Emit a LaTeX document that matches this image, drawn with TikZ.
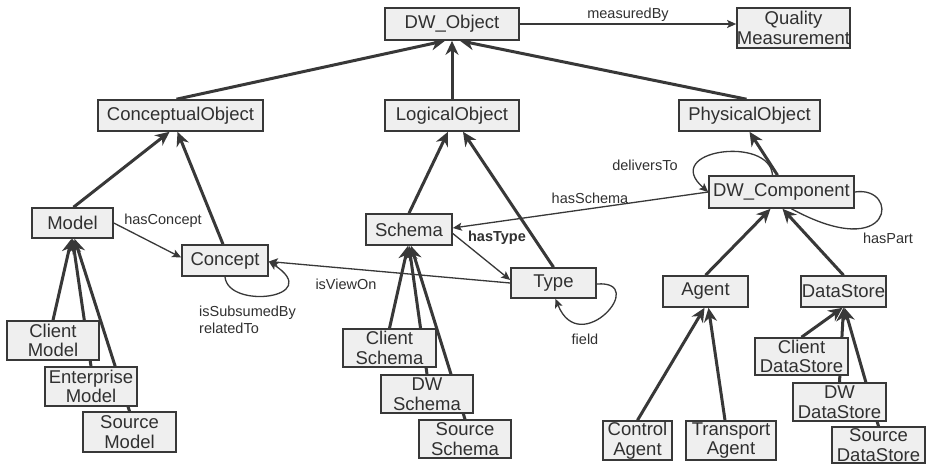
\documentclass[tikz,border=0pt]{standalone}
\usepackage{fontspec}
\setmainfont{Liberation Sans}
\usetikzlibrary{arrows.meta}
\pgfdeclarelayer{back}
\pgfdeclarelayer{bg}
\pgfsetlayers{back,bg,main}
\definecolor{boxfill}{HTML}{EFEFEF}
\definecolor{ink}{HTML}{383838}
\definecolor{txt}{HTML}{303030}
\begin{document}
\begin{tikzpicture}[x=1pt,y=-1pt,
  box/.style={draw=ink, fill=boxfill, line width=1.6pt, inner sep=0pt, text=txt,
    align=center, font=\fontsize{18.5}{19.5}\selectfont},
  isa/.style={draw=ink, line width=3pt, -{Stealth[length=14pt,width=13pt,inset=4.5pt]}},
  rel/.style={draw=ink, line width=1.3pt, -{Stealth[length=9pt,width=8pt,inset=2pt]}},
  relnotip/.style={draw=ink, line width=1.3pt},
  lab/.style={text=txt, inner sep=0pt, font=\fontsize{14.5}{17}\selectfont},
]
\useasboundingbox (0,0) rectangle (926,464);
\begin{pgfonlayer}{back}
\fill[white] (0,0) rectangle (926,464);
\end{pgfonlayer}

% nodes
\node[box, minimum width=134pt, minimum height=32pt] (dwo) at (452,24) {DW\_Object};
\node[box, minimum width=113pt, minimum height=40pt] (qm) at (793.5,28) {Quality\\Measurement};
\node[box, minimum width=165pt, minimum height=31pt] (co) at (180.5,115.5) {ConceptualObject};
\node[box, minimum width=134pt, minimum height=31pt] (lo) at (452,115.5) {LogicalObject};
\node[box, minimum width=141pt, minimum height=31pt] (po) at (749.5,115.5) {PhysicalObject};
\node[box, minimum width=81pt, minimum height=30pt] (model) at (72.5,223) {Model};
\node[box, minimum width=86pt, minimum height=31pt] (concept) at (225,260.5) {Concept};
\node[box, minimum width=86pt, minimum height=31pt] (schema) at (409,229.5) {Schema};
\node[box, minimum width=85pt, minimum height=30pt] (type) at (553.5,283) {Type};
\node[box, minimum width=145pt, minimum height=32pt] (dwc) at (781.5,192) {DW\_Component};
\node[box, minimum width=85pt, minimum height=31pt] (agent) at (705.5,291.5) {Agent};
\node[box, minimum width=85pt, minimum height=31pt] (ds) at (843.5,291.5) {DataStore};
\node[box, minimum width=92pt, minimum height=39pt] (cm) at (53,340.5) {Client\\Model};
\node[box, minimum width=92pt, minimum height=39pt] (em) at (91,386.5) {Enterprise\\Model};
\node[box, minimum width=93pt, minimum height=40pt] (sm) at (129.5,432) {Source\\Model};
\node[box, minimum width=93pt, minimum height=38pt] (cs) at (389.5,348) {Client\\Schema};
\node[box, minimum width=92pt, minimum height=38pt] (dws) at (427,394) {DW\\Schema};
\node[box, minimum width=92pt, minimum height=38pt] (ss) at (465,439) {Source\\Schema};
\node[box, minimum width=69pt, minimum height=39pt] (ca) at (637.5,440.5) {Control\\Agent};
\node[box, minimum width=90pt, minimum height=39pt] (ta) at (731,440.5) {Transport\\Agent};
\node[box, minimum width=93pt, minimum height=37pt] (cds) at (801.5,356.5) {Client\\DataStore};
\node[box, minimum width=93pt, minimum height=38pt] (dwds) at (839.5,402) {DW\\DataStore};
\node[box, minimum width=93pt, minimum height=36pt] (sds) at (878.5,445) {Source\\DataStore};

% labels
\node[lab] (lmeas) at (628,15) {measuredBy};
\node[lab] (lhc) at (163,221) {hasConcept};
\node[lab] (lview) at (346,284) {isViewOn};
\node[lab, anchor=north west, align=left] (lsub) at (199,306) {isSubsumedBy\\relatedTo};
\node[lab, font=\fontsize{14.5}{17}\selectfont\bfseries] (lht) at (497,238) {hasType};
\node[lab] (lhs) at (590,198) {hasSchema};
\node[lab] (ldel) at (645,165) {deliversTo};
\node[lab] (lpart) at (888,238) {hasPart};
\node[lab] (lfield) at (585,339) {field};

\begin{pgfonlayer}{bg}
% is-a edges
\draw[isa] ([xshift=-4pt]co.north) -- ([xshift=-7pt]dwo.south);
\draw[isa] (lo.north) -- (dwo.south);
\draw[isa] ([xshift=-3pt]po.north) -- ([xshift=8pt]dwo.south);
\draw[isa] ([xshift=1pt]model.north) -- ([xshift=-11pt]co.south);
\draw[isa] ([xshift=-2pt]concept.north) -- ([xshift=-3pt]co.south);
\draw[isa] (schema.north) -- ([xshift=-4pt]lo.south);
\draw[isa] (type.north) -- ([xshift=11pt]lo.south);
\draw[isa] ([xshift=-4pt]dwc.north) -- (po.south);
\draw[isa] (agent.north) -- ([xshift=-11pt]dwc.south);
\draw[isa] (ds.north) -- ([xshift=1pt]dwc.south);
\draw[isa] (cm.north) -- ([xshift=-1pt]model.south);
\draw[isa] (em.north) -- (model.south);
\draw[isa] (sm.north) -- ([xshift=2pt]model.south);
\draw[isa] (cs.north) -- ([xshift=-1pt]schema.south);
\draw[isa] (dws.north) -- (schema.south);
\draw[isa] (ss.north) -- ([xshift=2pt]schema.south);
\draw[isa] (ca.north) -- ([xshift=-1pt]agent.south);
\draw[isa] ([xshift=-6pt]ta.north) -- ([xshift=3pt]agent.south);
\draw[isa] (cds.north) -- ([xshift=-1pt]ds.south);
\draw[isa] (dwds.north) -- (ds.south);
\draw[isa] (sds.north) -- ([xshift=1pt]ds.south);

% relations
\draw[rel] (dwo.east) -- (dwo.east -| qm.west);
\draw[rel] (model.east) -- ([yshift=3pt]concept.west);
\draw[rel] (type.west) -- ([yshift=-1pt]concept.east);
\draw[rel] (concept.south) .. controls (228,310) and (325,298) .. ([yshift=-1pt]concept.east);
\draw[rel] ([yshift=-4pt]schema.east) -- ([yshift=3pt]type.west);
\draw[rel] (dwc.west) -- ([yshift=1.5pt]schema.east);
\draw[rel] ([yshift=-1pt]type.east) .. controls (650,280) and (580,360) .. ([xshift=2pt]type.south);
\draw[rel] ([xshift=-9pt]dwc.north) .. controls (770,135) and (660,150) .. (dwc.west);
\draw[relnotip] (dwc.east) .. controls (900,185) and (895,265) .. ([xshift=10pt]dwc.south);
\end{pgfonlayer}
\end{tikzpicture}
\end{document}
